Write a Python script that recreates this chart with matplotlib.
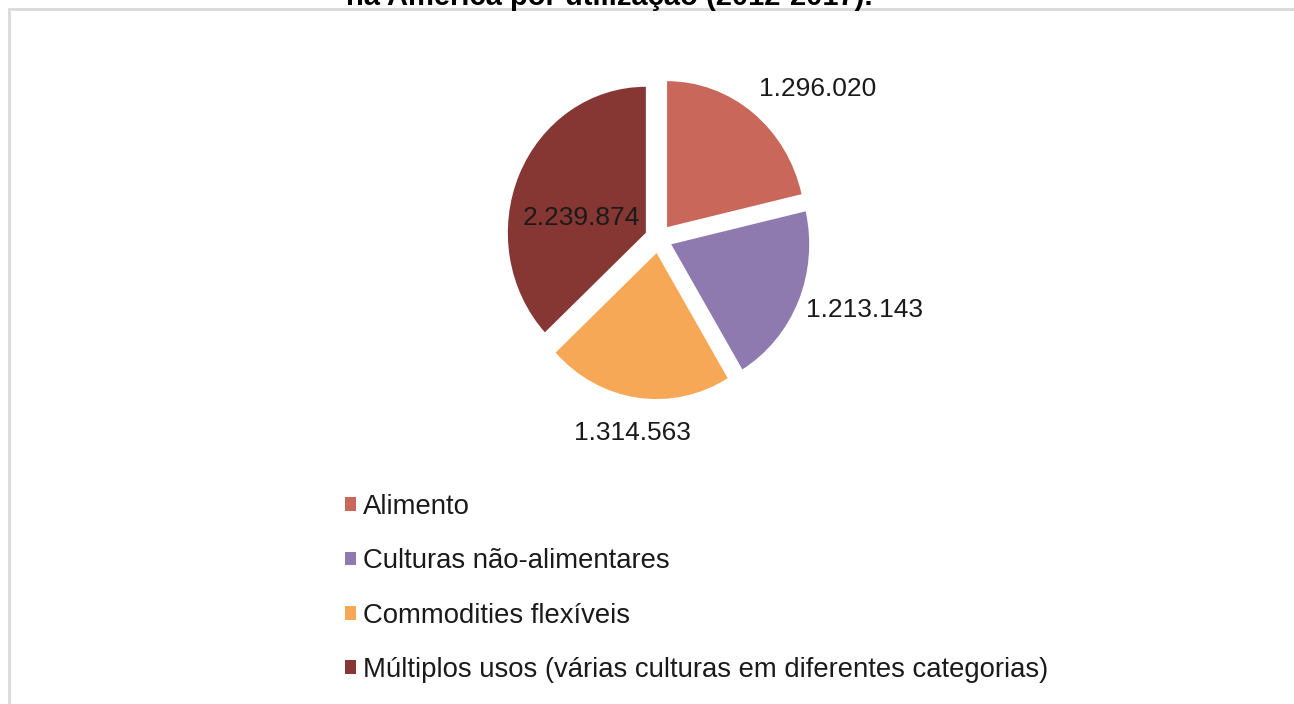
import matplotlib
matplotlib.use("Agg")
import matplotlib.pyplot as plt
from matplotlib.patches import Patch, Rectangle

plt.rcParams['font.family'] = ['Liberation Sans', 'DejaVu Sans']

# ---- data ----
categories = ["Alimento", "Culturas não-alimentares", "Commodities flexíveis",
              "Múltiplos usos (várias culturas em diferentes categorias)"]
values = [1296020, 1213143, 1314563, 2239874]
value_labels = ["1.296.020", "1.213.143", "1.314.563", "2.239.874"]
title = "na América por utilização (2012-2017)."

# ---- style ----
colors = ["#C9675B", "#8F7AB0", "#F7A857", "#863633"]
label_xy = [(1.156, 1.025), (1.496, -0.489), (-0.192, -1.332), (-0.562, 0.141)]

W, H = 1294, 704
fig = plt.figure(figsize=(W / 100, H / 100), dpi=100)
fig.patch.set_facecolor("white")

# border (only top and left visible)
fig.patches.append(Rectangle((8.5 / W, -0.1), 1.2, 1.1 - 9 / H, transform=fig.transFigure,
                             fill=False, edgecolor="#d9d9d9", linewidth=2.0))

# cut-off title
fig.text(609 / W, 1 - 5 / H, title, ha="center", va="baseline",
         fontsize=21, fontweight="bold", color="black")

# pie axes: slightly stretched vertically like the reference
RX, RY = 138, 146
L = 1.5
cx, cy = 658.5, 238.6
AW, AH = 2 * RX * L, 2 * RY * L
ax = fig.add_axes([(cx - AW / 2) / W, (H - cy - AH / 2) / H, AW / W, AH / H])
wedges, _ = ax.pie(values, colors=colors, startangle=90, counterclock=False,
                   explode=[0.1] * 4, radius=1,
                   wedgeprops=dict(linewidth=0))
ax.set_xlim(-L, L)
ax.set_ylim(-L, L)
ax.set_aspect("auto")
ax.axis("off")

for (x, y), t in zip(label_xy, value_labels):
    ax.text(x, y, t, ha="center", va="center", fontsize=19, color="#1a1a1a")

handles = [Patch(facecolor=c, edgecolor="none") for c in colors]
leg = fig.legend(handles, categories, loc="upper left",
                 bbox_to_anchor=(345 / W, 1 - 494 / H), frameon=False,
                 fontsize=19.8, handlelength=0.4, handleheight=0.4,
                 handletextpad=0.25, labelspacing=1.03, borderaxespad=0,
                 borderpad=0)
for t in leg.get_texts():
    t.set_color("#1a1a1a")

fig.savefig("out.png", dpi=100, facecolor="white")
